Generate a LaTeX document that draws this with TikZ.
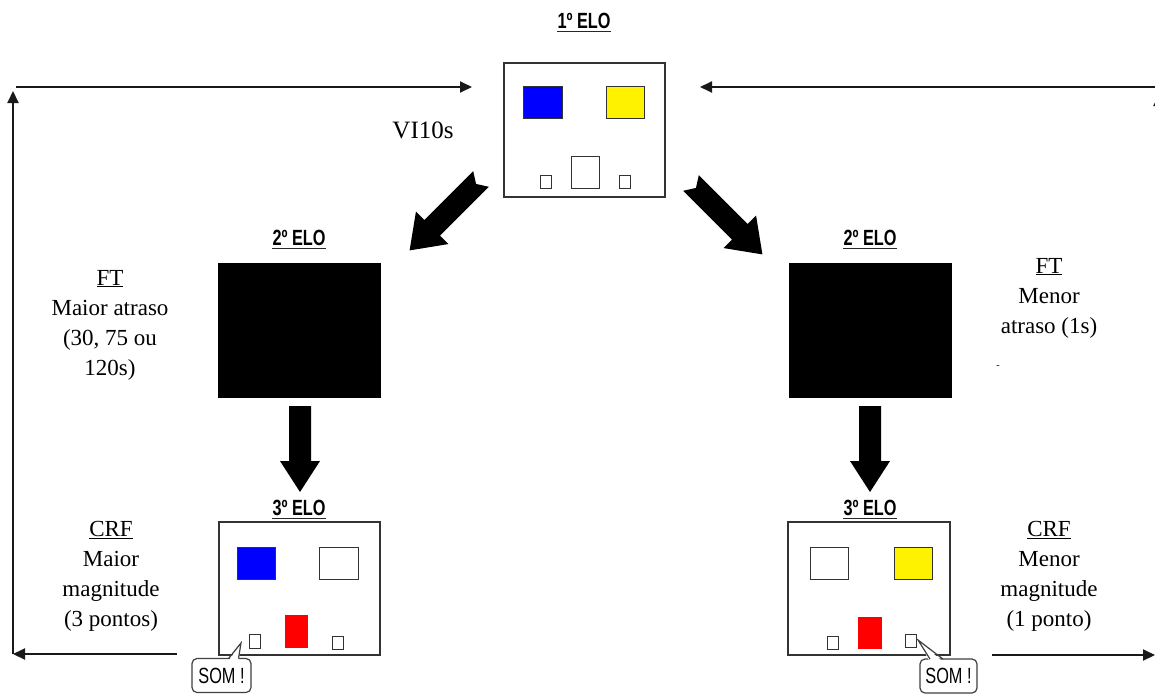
\documentclass[tikz,border=0pt]{standalone}
\usepackage{fontspec}
\setmainfont{Liberation Serif}
\newfontfamily\elofont[FakeStretch=0.74]{Liberation Sans}
\usetikzlibrary{arrows.meta,calc}

\tikzset{
  panel/.style={draw=black!80, line width=1.5pt, fill=white, inner sep=0pt, anchor=north west},
  key/.style={draw=black!80, line width=1.3pt, inner sep=0pt, anchor=north west},
  darkbox/.style={fill=black, inner sep=0pt, anchor=north west},
  elotitle/.style={font=\elofont\bfseries\fontsize{22}{22}\selectfont, inner sep=0pt},
  eloline/.style={draw=black!85, line width=1.4pt},
  lab/.style={font=\fontsize{23}{30}\selectfont, align=center, inner sep=0pt},
  loopline/.style={draw=black!90, line width=2pt, -{Triangle[length=12pt,width=11pt]}},
  bubble/.style={draw=black!75, line width=1.2pt, fill=white, rounded corners=5pt,
    font=\elofont\fontsize{22}{22}\selectfont, inner sep=0pt},
  bubbleline/.style={draw=black!75, line width=1.2pt},
  % thick block arrow with a notched tail, pointing along +x
  notcharrow/.pic={
    \fill[black] (0,-11) -- (#1-32,-11) -- (#1-32,-23) -- (#1,0) -- (#1-32,23)
      -- (#1-32,11) -- (0,11) -- (7,0) -- cycle;
  },
  % thick block arrow with a flat tail, pointing along +x
  flatarrow/.pic={
    \fill[black] (0,-11) -- (#1-31,-11) -- (#1-31,-20) -- (#1,0) -- (#1-31,20)
      -- (#1-31,11) -- (0,11) -- cycle;
  },
}

\begin{document}
\begin{tikzpicture}[x=1pt, y=-1pt]
\useasboundingbox (0,0) rectangle (1155,693);
\clip (0,0) rectangle (1155,693);
\fill[white] (0,0) rectangle (1155,693);

% ---------- first link ----------
\node[elotitle] (t1) at (584,21) {1º ELO};
\draw[eloline] ([yshift=-3pt]t1.base west) -- ([yshift=-3pt]t1.base east);
\node[panel, minimum width=161pt, minimum height=134pt] (elo1) at (503,62) {};
\node[key, fill=blue, minimum width=39pt, minimum height=32pt] (e1b) at (523,86) {};
\node[key, fill=yellow, minimum width=38pt, minimum height=32pt] (e1y) at (606,86) {};
\node[key, minimum width=11pt, minimum height=13pt] (e1l) at (540,175) {};
\node[key, minimum width=28pt, minimum height=32pt] (e1m) at (571,156) {};
\node[key, minimum width=11pt, minimum height=13pt] (e1r) at (619,175) {};

\node[font=\fontsize{25}{25}\selectfont, inner sep=0pt] (vi) at (423,130) {VI10s};

% ---------- second links ----------
\node[elotitle] (t2l) at (299,238) {2º ELO};
\draw[eloline] ([yshift=-3pt]t2l.base west) -- ([yshift=-3pt]t2l.base east);
\node[darkbox, minimum width=163pt, minimum height=135pt] (elo2l) at (218,263) {};

\node[elotitle] (t2r) at (870,238) {2º ELO};
\draw[eloline] ([yshift=-3pt]t2r.base west) -- ([yshift=-3pt]t2r.base east);
\node[darkbox, minimum width=163pt, minimum height=135pt] (elo2r) at (789,263) {};

\node[lab] (ftl) at (110,325) {\underline{FT}\\Maior atraso\\(30, 75 ou\\120s)};
\node[lab] (ftr) at (1049,298) {\underline{FT}\\Menor\\atraso (1s)};
\node[font=\fontsize{10}{10}\selectfont, inner sep=0pt] (dash) at (998,367) {-};

% ---------- third links ----------
\node[elotitle] (t3l) at (299,508) {3º ELO};
\draw[eloline] ([yshift=-3pt]t3l.base west) -- ([yshift=-3pt]t3l.base east);
\node[panel, minimum width=161pt, minimum height=133pt] (elo3l) at (218,521) {};
\node[key, fill=blue, minimum width=38pt, minimum height=32pt] (e3lb) at (237,547) {};
\node[key, minimum width=39pt, minimum height=32pt] (e3lw) at (319,547) {};
\node[fill=red, inner sep=0pt, anchor=north west, minimum width=23pt, minimum height=33pt] (e3lr) at (285,615) {};
\node[key, minimum width=11pt, minimum height=14pt] (e3ll) at (249,634) {};
\node[key, minimum width=11pt, minimum height=13pt] (e3lrr) at (332,636) {};

\node[elotitle] (t3r) at (870,508) {3º ELO};
\draw[eloline] ([yshift=-3pt]t3r.base west) -- ([yshift=-3pt]t3r.base east);
\node[panel, minimum width=162pt, minimum height=133pt] (elo3r) at (787,521) {};
\node[key, minimum width=38pt, minimum height=32pt] (e3rw) at (810,547) {};
\node[key, fill=yellow, minimum width=38pt, minimum height=32pt] (e3ry) at (894,547) {};
\node[fill=red, inner sep=0pt, anchor=north west, minimum width=24pt, minimum height=32pt] (e3rr) at (858,617) {};
\node[key, minimum width=11pt, minimum height=13pt] (e3rl) at (827,636) {};
\node[key, minimum width=11pt, minimum height=13pt] (e3rrr) at (905,634) {};

\node[lab] (crfl) at (111,576) {\underline{CRF}\\Maior\\magnitude\\(3 pontos)};
\node[lab] (crfr) at (1049,576) {\underline{CRF}\\Menor\\magnitude\\(1 ponto)};

% ---------- sound bubbles ----------
\node[bubble, minimum width=59pt, minimum height=34pt] (som1) at (221.5,675.5) {SOM !};
\coordinate (som1tip) at (241,643);
\fill[white] (228.5,661) -- (som1tip) -- (238.5,661) -- cycle;
\draw[bubbleline] (228.5,658.6) -- (som1tip) -- (238.5,658.6);

\node[bubble, minimum width=57pt, minimum height=34pt] (som2) at (948.5,676) {SOM !};
\coordinate (som2tip) at (918,640);
\fill[white] (930,662) -- (som2tip) -- (943,662) -- cycle;
\draw[bubbleline] (930,659.1) -- (som2tip) -- (943,659.1);

% ---------- block arrows between links ----------
\pic[rotate=-135] at (481,179) {notcharrow=101};
\pic[rotate=-45] at (691,183) {notcharrow=101};
\pic[rotate=-90] at (300,406) {flatarrow=86};
\pic[rotate=-90] at (870,406) {flatarrow=86};

% ---------- return loops ----------
\coordinate (lb) at (13,654);
\coordinate (lt) at (13,91);
\coordinate (ltl) at (16,87);
\coordinate (ltr) at (472,87);
\coordinate (lbr) at (177,654);
\draw[loopline] (lb) -- (lt);
\draw[loopline] (ltl) -- (ltr);
\draw[loopline] (lbr) -- (lb);

\coordinate (rb) at (1159,655);
\coordinate (rt) at (1159,94);
\coordinate (rtr) at (1157,87);
\coordinate (rtl) at (700,87);
\coordinate (rbl) at (992,655);
\coordinate (rbr) at (1155,655);
\draw[loopline] (rb) -- (rt);
\draw[loopline] (rtr) -- (rtl);
\draw[loopline] (rbl) -- (rbr);
\end{tikzpicture}
\end{document}
